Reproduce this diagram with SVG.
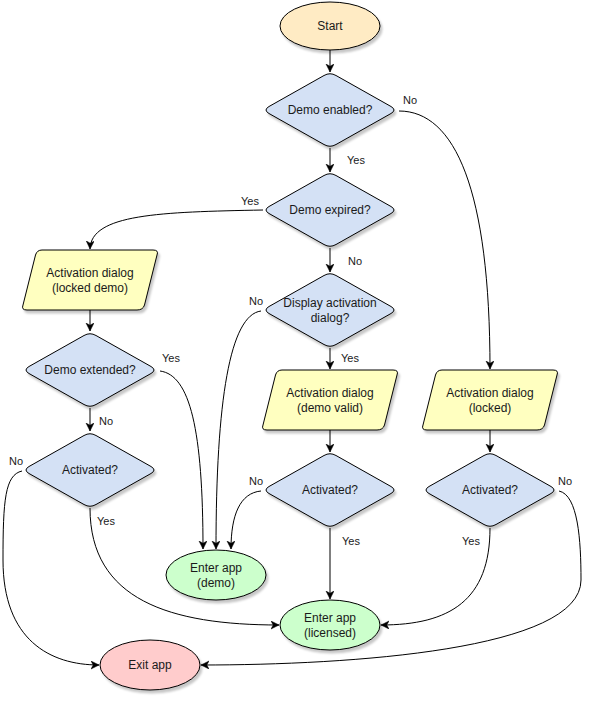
<svg xmlns="http://www.w3.org/2000/svg" xmlns:xlink="http://www.w3.org/1999/xlink" width="592" height="702" viewBox="0 0 592 702">
<style>
  .node { stroke: #000; stroke-width: 1; filter: url(#shadow); }
  .dia { fill: #d4e1f5; }
  .io { fill: #ffffc0; }
  .start { fill: #ffebc4; }
  .ok { fill: #ccffcc; }
  .exit { fill: #ffcccc; }
  .t { font-family: "Liberation Sans", Arial, sans-serif; font-size: 12px; fill: #1a1a1a; text-anchor: middle; }
  .lbl { font-family: "Liberation Sans", Arial, sans-serif; font-size: 11px; fill: #1a1a1a; text-anchor: middle; }
  .edge { fill: none; stroke: #000; stroke-width: 1; marker-end: url(#arr); }
</style>
<defs>
  <filter id="shadow" x="-20%" y="-20%" width="150%" height="150%">
    <feDropShadow dx="2" dy="3" stdDeviation="1.2" flood-color="#000" flood-opacity="0.22"/>
  </filter>
  <marker id="arr" markerUnits="userSpaceOnUse" markerWidth="10" markerHeight="10" refX="8" refY="4" orient="auto">
    <path d="M0,0 L8,4 L0,8 L2.2,4 Z" fill="#000" stroke="#000" stroke-width="0.5"/>
  </marker>
  <path id="diamond" d="M-61,-3.5 L-6,-34.5 Q0,-38 6,-34.5 L61,-3.5 Q67,0 61,3.5 L6,34.5 Q0,38 -6,34.5 L-61,3.5 Q-67,0 -61,-3.5 Z"/>
  <path id="para" d="M-48,-30 L63,-30 Q69,-30 67,-25 L54.5,25 Q53,30 47,30 L-63,30 Q-69,30 -67,25 L-54.5,-25 Q-53,-30 -48,-30 Z"/>
</defs>

<g id="connectors">
  <path class="edge" d="M330,50 L330,72"/>
  <path class="edge" d="M330,148 L330,172"/>
  <path class="edge" d="M399,111 C455,111 490,190 490,369"/>
  <path class="edge" d="M263,210 C160,212 91,214 90,249"/>
  <path class="edge" d="M330,248 L330,272"/>
  <path class="edge" d="M261,311 C230,315 216,400 216,549"/>
  <path class="edge" d="M330,348 L330,369"/>
  <path class="edge" d="M330,430 L330,452"/>
  <path class="edge" d="M330,528 L330,599"/>
  <path class="edge" d="M261,491 C240,493 231,515 231,549"/>
  <path class="edge" d="M490,430 L490,452"/>
  <path class="edge" d="M490,528 C490,600 450,625 381,625"/>
  <path class="edge" d="M559,491 C578,495 581,540 581,580 C581,650 350,665 201,665"/>
  <path class="edge" d="M90,310 L90,331"/>
  <path class="edge" d="M160,371 C190,375 203,430 203,549"/>
  <path class="edge" d="M90,408 L90,431"/>
  <path class="edge" d="M22,471 C5,475 3,500 3,560 C3,640 50,665 99,665"/>
  <path class="edge" d="M90,508 C90,600 170,625 279,625"/>
</g>

<g id="edge-labels">
  <text class="lbl" x="410" y="104">No</text>
  <text class="lbl" x="356" y="164">Yes</text>
  <text class="lbl" x="250" y="205">Yes</text>
  <text class="lbl" x="355" y="265">No</text>
  <text class="lbl" x="256" y="305">No</text>
  <text class="lbl" x="350" y="362">Yes</text>
  <text class="lbl" x="256" y="485">No</text>
  <text class="lbl" x="351" y="545">Yes</text>
  <text class="lbl" x="471" y="545">Yes</text>
  <text class="lbl" x="565" y="485">No</text>
  <text class="lbl" x="171" y="362">Yes</text>
  <text class="lbl" x="106" y="425">No</text>
  <text class="lbl" x="16" y="465">No</text>
  <text class="lbl" x="106" y="525">Yes</text>
</g>

<g id="start">
  <ellipse class="node start" cx="330" cy="26" rx="50" ry="24"/>
  <text class="t" x="330" y="30">Start</text>
</g>
<g id="demo-enabled">
  <use class="node dia" href="#diamond" x="330" y="110"/>
  <text class="t" x="330" y="114">Demo enabled?</text>
</g>
<g id="demo-expired">
  <use class="node dia" href="#diamond" x="330" y="210"/>
  <text class="t" x="330" y="214">Demo expired?</text>
</g>
<g id="display-dialog">
  <use class="node dia" href="#diamond" x="330" y="310"/>
  <text class="t" x="330" y="307">Display activation</text>
  <text class="t" x="330" y="322">dialog?</text>
</g>
<g id="dialog-demo-valid">
  <use class="node io" href="#para" x="330" y="400"/>
  <text class="t" x="330" y="397">Activation dialog</text>
  <text class="t" x="330" y="412">(demo valid)</text>
</g>
<g id="activated-center">
  <use class="node dia" href="#diamond" x="330" y="490"/>
  <text class="t" x="330" y="494">Activated?</text>
</g>
<g id="dialog-locked">
  <use class="node io" href="#para" x="490" y="400"/>
  <text class="t" x="490" y="397">Activation dialog</text>
  <text class="t" x="490" y="412">(locked)</text>
</g>
<g id="activated-right">
  <use class="node dia" href="#diamond" x="490" y="490"/>
  <text class="t" x="490" y="494">Activated?</text>
</g>
<g id="dialog-locked-demo">
  <use class="node io" href="#para" x="90" y="280"/>
  <text class="t" x="90" y="277">Activation dialog</text>
  <text class="t" x="90" y="292">(locked demo)</text>
</g>
<g id="demo-extended">
  <use class="node dia" href="#diamond" x="90" y="370"/>
  <text class="t" x="90" y="374">Demo extended?</text>
</g>
<g id="activated-left">
  <use class="node dia" href="#diamond" x="90" y="470"/>
  <text class="t" x="90" y="474">Activated?</text>
</g>
<g id="enter-demo">
  <ellipse class="node ok" cx="216" cy="575" rx="50" ry="25"/>
  <text class="t" x="216" y="572">Enter app</text>
  <text class="t" x="216" y="587">(demo)</text>
</g>
<g id="enter-licensed">
  <ellipse class="node ok" cx="330" cy="625" rx="50" ry="25"/>
  <text class="t" x="330" y="622">Enter app</text>
  <text class="t" x="330" y="637">(licensed)</text>
</g>
<g id="exit-app">
  <ellipse class="node exit" cx="150" cy="665" rx="50" ry="25"/>
  <text class="t" x="150" y="669">Exit app</text>
</g>
</svg>
